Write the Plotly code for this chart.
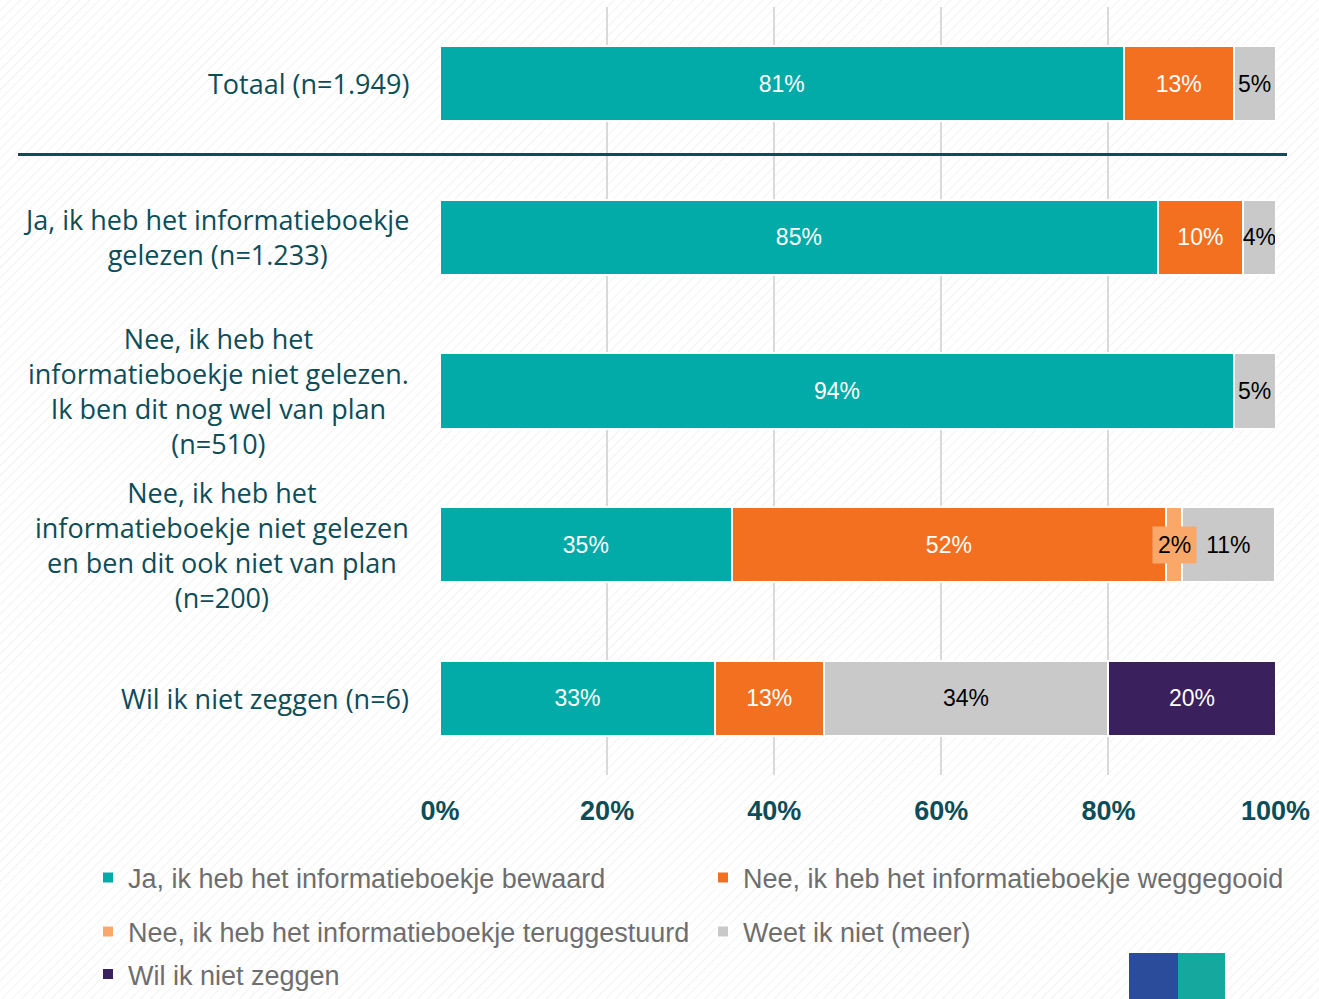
import base64
import plotly.graph_objects as go

categories = [
    "Totaal (n=1.949)",
    "Ja, ik heb het informatieboekje<br>gelezen (n=1.233)",
    "Nee, ik heb het<br>informatieboekje niet gelezen.<br>Ik ben dit nog wel van plan<br>(n=510)",
    "Nee, ik heb het<br>informatieboekje niet gelezen<br>en ben dit ook niet van plan<br>(n=200)",
    "Wil ik niet zeggen (n=6)",
]

series_names = [
    "Ja, ik heb het informatieboekje bewaard",
    "Nee, ik heb het informatieboekje weggegooid",
    "Nee, ik heb het informatieboekje teruggestuurd",
    "Weet ik niet (meer)",
    "Wil ik niet zeggen",
]

bewaard = [81.8, 85.9, 95.0, 34.9, 32.9]
weggegooid = [13.2, 10.2, 0.0, 52.0, 13.0]
teruggestuurd = [0.0, 0.0, 0.0, 1.9, 0.0]
weet_niet = [5.0, 3.9, 5.0, 11.1, 34.1]
niet_zeggen = [0.0, 0.0, 0.0, 0.0, 20.0]

lbl_bewaard = ["81%", "85%", "94%", "35%", "33%"]
lbl_weggegooid = ["13%", "10%", "", "52%", "13%"]
lbl_teruggestuurd = ["", "", "", "2%", ""]
lbl_weet_niet = ["5%", "4%", "5%", "11%", "34%"]
lbl_niet_zeggen = ["", "", "", "", "20%"]

tick_vals = [0, 20, 40, 60, 80, 100]
tick_text = ["0%", "20%", "40%", "60%", "80%", "100%"]

colors = ["#02ABA8", "#F37021", "#F9A86A", "#C9C9C9", "#3A205C"]
text_colors = ["white", "white", "black", "black", "white"]

DARK = "#0D4D58"

values = [bewaard, weggegooid, teruggestuurd, weet_niet, niet_zeggen]
labels = [lbl_bewaard, lbl_weggegooid, [""] * 5, lbl_weet_niet, lbl_niet_zeggen]
legends = ["legend", "legend", "legend2", "legend2", "legend3"]

fig = go.Figure()
for name, vals, lbls, col, tcol, lg in zip(series_names, values, labels, colors, text_colors, legends):
    fig.add_trace(go.Bar(
        y=categories, x=vals, name=name, orientation="h",
        marker=dict(color=col, line=dict(color="white", width=2)),
        text=lbls, textposition="inside", insidetextanchor="middle",
        textangle=0, constraintext="none",
        textfont=dict(family="Liberation Sans, Arial", size=23, color=tcol),
        width=0.49, legend=lg, hoverinfo="skip",
    ))

# callout label for the small "teruggestuurd" segment
for i, (lbl, v) in enumerate(zip(lbl_teruggestuurd, teruggestuurd)):
    if lbl:
        start = bewaard[i] + weggegooid[i]
        fig.add_annotation(
            x=start + v / 2, y=categories[i], xref="x", yref="y",
            text=lbl, showarrow=False, bgcolor="#F9A86A",
            font=dict(family="Liberation Sans, Arial", size=23, color="black"),
            borderpad=5,
        )

# category labels, centered lines
for c in categories:
    fig.add_annotation(
        x=-29 / 836, y=c, xref="paper", yref="y", xanchor="right", yanchor="middle",
        text=c, showarrow=False, align="center",
        font=dict(family="Open Sans, Noto Sans", size=27, color=DARK),
    )

# separator line under total
fig.add_shape(type="line", xref="paper", yref="y",
              x0=(18 - 440) / 836, x1=(1287 - 440) / 836, y0=0.46, y1=0.46,
              line=dict(color=DARK, width=3))

PAPER_H = 775


def px(xp):
    return (xp - 440) / 836


def py(yp):
    return (PAPER_H - yp) / PAPER_H


# logo hint (bottom right)
fig.add_shape(type="rect", xref="paper", yref="paper", x0=px(1129), x1=px(1178),
              y0=py(999), y1=py(953), fillcolor="#2B4C9B", line=dict(width=0))
fig.add_shape(type="rect", xref="paper", yref="paper", x0=px(1178), x1=px(1225),
              y0=py(999), y1=py(953), fillcolor="#14A89E", line=dict(width=0))

# faint diagonal hatch background
svg = (
    '<svg xmlns="http://www.w3.org/2000/svg" width="1319" height="999">'
    '<defs><pattern id="p" width="7" height="7" patternUnits="userSpaceOnUse" '
    'patternTransform="rotate(45)"><line x1="0" y1="0" x2="0" y2="7" '
    'stroke="#EFEFEF" stroke-width="1.5"/></pattern></defs>'
    '<rect width="1319" height="999" fill="white"/>'
    '<rect width="1319" height="999" fill="url(#p)"/></svg>'
)
src = "data:image/svg+xml;base64," + base64.b64encode(svg.encode()).decode()
fig.add_layout_image(dict(source=src, xref="paper", yref="paper",
                          x=px(0), y=py(0), sizex=1319 / 836, sizey=999 / PAPER_H,
                          xanchor="left", yanchor="top", sizing="stretch", layer="below"))

legend_font = dict(family="Liberation Sans Narrow, Arial Narrow, Liberation Sans", size=27, color="#6E6E6E")
common_leg = dict(orientation="h", xanchor="left", x=px(88),
                  entrywidth=570, entrywidthmode="pixels", font=legend_font,
                  traceorder="normal",
                  bgcolor="rgba(0,0,0,0)", itemclick=False, itemdoubleclick=False)

fig.update_layout(
    width=1319, height=999,
    margin=dict(l=440, r=43, t=0, b=224),
    barmode="stack",
    paper_bgcolor="white", plot_bgcolor="rgba(0,0,0,0)",
    uniformtext=dict(minsize=23, mode="show"),
    xaxis=dict(range=[0, 100.05], tickvals=tick_vals, ticktext=tick_text,
               showgrid=True, gridcolor="#D9D9D9", gridwidth=2, zeroline=False,
               ticks="outside", ticklen=12, tickcolor="rgba(0,0,0,0)",
               tickfont=dict(family="Liberation Sans, Arial", size=27, color=DARK,
                             weight="bold"),
               fixedrange=True),
    yaxis=dict(categoryorder="array", categoryarray=categories, range=[4.5, -0.5],
               domain=[0, 768 / PAPER_H],
               showticklabels=False, showgrid=False, zeroline=False, fixedrange=True),
    legend=dict(common_leg, y=py(878), yanchor="middle"),
    legend2=dict(common_leg, y=py(932), yanchor="middle"),
    legend3=dict(common_leg, y=py(999), yanchor="bottom"),
    showlegend=True,
)

fig.write_html("out.html", post_script="document.body.style.margin='0';",
               config={"displayModeBar": False})
